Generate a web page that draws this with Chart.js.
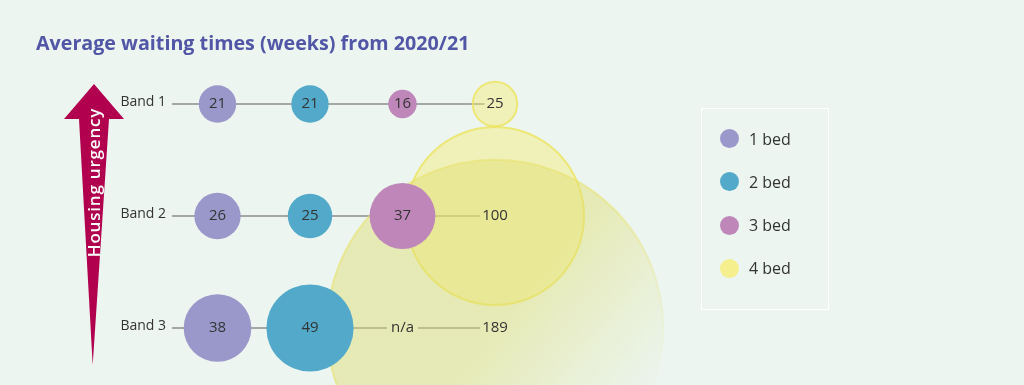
<!DOCTYPE html>
<html lang="en">
<head>
<meta charset="UTF-8">
<title>Average waiting times</title>
<script src="https://cdn.jsdelivr.net/npm/chart.js"></script>
<style>
    body { margin: 0; background: #ecf5f0; }
    #wrap { position: relative; width: 1024px; height: 385px; }
    #legend {
        position: absolute; left: 701px; top: 108px; width: 128px; height: 202px;
        box-sizing: border-box; border: 1.5px solid #ffffff;
        font-family: 'Open Sans', sans-serif; font-size: 16px; color: #333;
    }
    .item { position: absolute; left: 18px; height: 20px; display: flex; align-items: center; }
    .dot { width: 19px; height: 19px; border-radius: 50%; margin-right: 10px; }
</style>
</head>
<body>
<div id="wrap">
    <canvas id="grafico" width="1024" height="385"></canvas>
    <div id="legend"></div>
</div>
<script>
// dados (semanas de espera)
const bands = ['Band 1', 'Band 2', 'Band 3'];
const bedLabels = ['1 bed', '2 bed', '3 bed', '4 bed'];
const oneBed = [21, 26, 38];
const twoBed = [21, 25, 49];
const threeBed = [16, 37, null];   // null = n/a
const fourBed = [25, 100, 189];

const bedColors = ['#9a98ca', '#52a9c9', '#bf87b9', 'rgba(245,236,110,0.42)'];
const legendColors = ['#9a98ca', '#52a9c9', '#bf87b9', '#f5ef8e'];
const rScale = 0.89; // raio em px por semana

const allSeries = [oneBed, twoBed, threeBed, fourBed];
const biggest = Math.max(...fourBed);

function fadeFill(ctx, color, alpha) {
    const chart = ctx.chart;
    if (!chart.chartArea) return color + alpha + ')';
    const cx = chart.scales.x.getPixelForValue(ctx.raw.x);
    const cy = chart.scales.y.getPixelForValue(ctx.raw.y);
    const r = ctx.raw.r;
    const g = chart.ctx.createLinearGradient(cx - 0.2 * r, cy - 0.45 * r, cx + 0.9 * r, cy + 0.45 * r);
    g.addColorStop(0, color + alpha + ')');
    g.addColorStop(0.3, color + alpha + ')');
    g.addColorStop(1, color + '0)');
    return g;
}

const datasets = allSeries.map(function (vals, c) {
    const ds = {
        label: bedLabels[c],
        data: vals.map((v, b) => ({ x: c + 1, y: b + 1, r: v == null ? 0 : v * rScale, v: v })),
        backgroundColor: bedColors[c],
        borderWidth: 0,
        clip: false
    };
    if (c === 3) {
        ds.borderWidth = 2;
        ds.backgroundColor = function (ctx) {
            if (ctx.raw && ctx.raw.v === biggest) return fadeFill(ctx, 'rgba(223,221,109,', 0.45);
            return bedColors[3];
        };
        ds.borderColor = function (ctx) {
            if (ctx.raw && ctx.raw.v === biggest) return fadeFill(ctx, 'rgba(232,226,110,', 0.6);
            return 'rgba(236,228,95,0.8)';
        };
    }
    return ds;
});

// seta "Housing urgency"
const arrowPlugin = {
    id: 'arrow',
    beforeDraw(chart) {
        const c = chart.ctx;
        c.save();
        c.fillStyle = '#b0004e';
        c.beginPath();
        c.moveTo(94, 84);
        c.lineTo(124, 119);
        c.lineTo(109, 119);
        c.lineTo(92.7, 365);
        c.lineTo(79, 119);
        c.lineTo(64, 119);
        c.closePath();
        c.fill();
        c.translate(95, 182.5);
        c.rotate(-Math.PI / 2);
        c.fillStyle = '#ffffff';
        c.font = "600 17px 'Open Sans', sans-serif";
        c.letterSpacing = '0.8px';
        c.textAlign = 'center';
        c.textBaseline = 'middle';
        c.fillText('Housing urgency', 0, 0);
        c.restore();
    }
};

function labelText(v) { return v == null ? 'n/a' : String(v); }

// linhas de ligacao entre as bolhas
const linesPlugin = {
    id: 'lines',
    beforeDatasetsDraw(chart) {
        const c = chart.ctx;
        const x = chart.scales.x, y = chart.scales.y;
        c.save();
        c.font = "15px 'Open Sans', sans-serif";
        c.strokeStyle = '#8c8c8c';
        c.lineWidth = 1.3;
        bands.forEach(function (b, bi) {
            const py = y.getPixelForValue(bi + 1);
            const last = allSeries.length - 1;
            const wLast = c.measureText(labelText(allSeries[last][bi])).width;
            const end = x.getPixelForValue(last + 1) - wLast / 2 - 2;
            let start = chart.chartArea.left;
            allSeries.forEach(function (s, ci) {
                if (s[bi] == null) {
                    const px = x.getPixelForValue(ci + 1);
                    const w = c.measureText('n/a').width;
                    c.beginPath(); c.moveTo(start, py); c.lineTo(px - w / 2 - 4, py); c.stroke();
                    start = px + w / 2 + 4;
                }
            });
            c.beginPath(); c.moveTo(start, py); c.lineTo(end, py); c.stroke();
        });
        c.restore();
    },
    afterDatasetsDraw(chart) {
        const c = chart.ctx;
        const x = chart.scales.x, y = chart.scales.y;
        c.save();
        c.font = "15px 'Open Sans', sans-serif";
        c.fillStyle = '#333333';
        c.textAlign = 'center';
        c.textBaseline = 'middle';
        allSeries.forEach(function (s, ci) {
            s.forEach(function (v, bi) {
                c.fillText(labelText(v), x.getPixelForValue(ci + 1), y.getPixelForValue(bi + 1));
            });
        });
        c.restore();
    }
};

Chart.defaults.font.family = "'Open Sans', sans-serif";

new Chart(document.getElementById('grafico'), {
    type: 'bubble',
    data: { datasets: datasets },
    options: {
        responsive: false,
        animation: false,
        events: [],
        layout: { autoPadding: false, padding: { left: 36, right: 0, top: 0, bottom: 0 } },
        plugins: {
            legend: { display: false },
            tooltip: { enabled: false },
            title: {
                display: true,
                text: 'Average waiting times (weeks) from 2020/21',
                align: 'start',
                color: '#5156a6',
                font: { size: 19.7, weight: 'bold', lineHeight: 1.2 },
                padding: { top: 33, bottom: 9.36 }
            }
        },
        scales: {
            x: {
                type: 'linear', display: false,
                min: 0.5081, max: 9.7189
            },
            y: {
                type: 'linear', reverse: true,
                min: 0.66071, max: 3.50893,
                grid: { display: false, drawTicks: false },
                border: { display: false },
                afterFit(scale) {
                    scale.width = 136;
                    scale.paddingTop = 0;
                    scale.paddingBottom = 0;
                },
                afterBuildTicks(scale) { scale.ticks = bands.map((b, i) => ({ value: i + 1 })); },
                ticks: {
                    padding: 6,
                    labelOffset: -2,
                    color: '#333333',
                    font: { size: 14 },
                    callback: (v) => bands[v - 1]
                }
            }
        }
    },
    plugins: [arrowPlugin, linesPlugin]
});

// legenda em html
const legend = document.getElementById('legend');
bedLabels.forEach(function (lab, i) {
    const item = document.createElement('div');
    item.className = 'item';
    item.style.top = (29.5 + i * 43.33 - 10) + 'px';
    item.innerHTML = '<span class="dot" style="background:' + legendColors[i] + '"></span>' + lab;
    legend.appendChild(item);
});
</script>
</body>
</html>
